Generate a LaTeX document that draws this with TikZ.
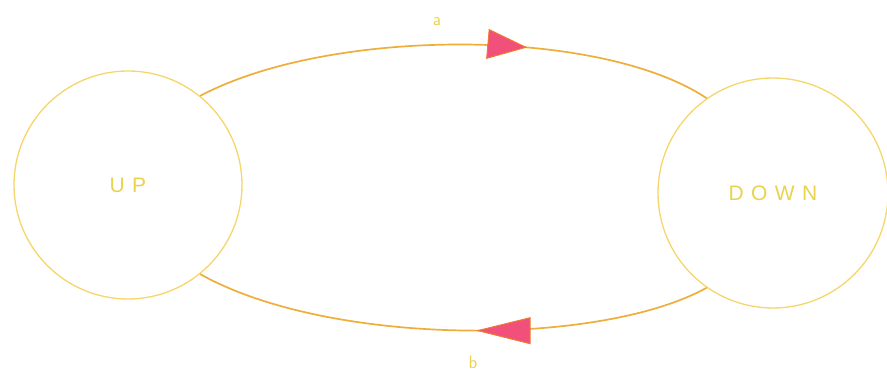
\documentclass[tikz,border=0pt]{standalone}
\usepackage{fontspec}
\newfontfamily\spacedsans[LetterSpace=35]{Liberation Sans}
\usetikzlibrary{arrows.meta,decorations.markings}
\definecolor{circcol}{HTML}{F6D66A}
\definecolor{linecol}{HTML}{EFAE3A}
\definecolor{tipfill}{HTML}{F0507A}
\definecolor{tipdraw}{HTML}{F07A30}
\definecolor{txtcol}{HTML}{E9D24E}
\tikzset{
  state/.style={circle,draw=circcol,line width=1.3pt,inner sep=0pt,
    font=\spacedsans\fontsize{21}{23}\selectfont,text=txtcol},
  trans/.style={draw=linecol,line width=1.7pt},
  lbl/.style={font=\sffamily\fontsize{18}{20}\selectfont,text=txtcol},
  tipA/.style={postaction={decorate,decoration={markings,
    mark=at position #1 with {\arrow[tipdraw,line width=1pt]{Triangle[length=40pt,width=30pt,fill=tipfill]}}}}},
  tipB/.style={postaction={decorate,decoration={markings,
    mark=at position #1 with {\arrow[tipdraw,line width=1pt]{Triangle[length=55pt,width=27pt,fill=tipfill]}}}}}
}
\begin{document}
\begin{tikzpicture}[x=1pt,y=1pt]
\useasboundingbox (0,0) rectangle (887,374);
\node[state,minimum size=228pt] (up) at (128,189) {UP};
\node[state,minimum size=230pt] (down) at (773,181) {DOWN};
\draw[trans,tipA=0.64] (up.51) .. controls (330,347) and (600,347) .. (down.125);
\draw[trans,tipB=0.455] (down.235) .. controls (600,27) and (330,27) .. (up.309);
\node[lbl] (la) at (437,352) {a};
\node[lbl] (lb) at (473,12) {b};
\end{tikzpicture}
\end{document}
